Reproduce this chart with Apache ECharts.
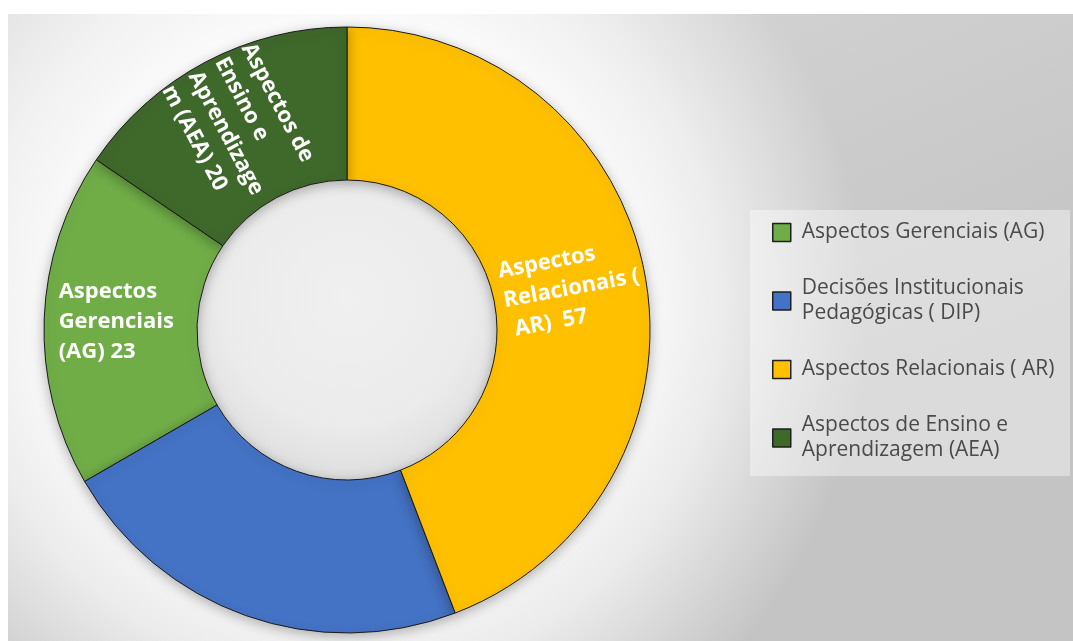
<!DOCTYPE html>
<html>
<head>
<meta charset="utf-8">
<script src="https://cdn.jsdelivr.net/npm/echarts@6/dist/echarts.min.js"></script>
<style>
  html, body { margin: 0; padding: 0; background: #ffffff; }
  #chart { width: 1073px; height: 641px; }
</style>
</head>
<body>
<div id="chart"></div>
<script>
// Categories in legend order; the ring runs counter-clockwise in this order
const categories = [
  'Aspectos Gerenciais (AG)',
  'Decisões Institucionais Pedagógicas ( DIP)',
  'Aspectos Relacionais ( AR)',
  'Aspectos de Ensino e Aprendizagem (AEA)'
];
const values = [23, 29, 57, 20];
const colors = ['#70AD47', '#4472C4', '#FFC000', '#3F682B'];

// Wrapped text for the legend entries
const legendText = [
  'Aspectos Gerenciais (AG)',
  'Decisões Institucionais\nPedagógicas ( DIP)',
  'Aspectos Relacionais ( AR)',
  'Aspectos de Ensino e\nAprendizagem (AEA)'
];

// Wrapped name lines for the slice labels (value is appended to the last line); null = no label
const sliceNameLines = [
  ['Aspectos', 'Gerenciais', '(AG)'],
  null,
  ['Aspectos', 'Relacionais (', ' AR) '],
  ['Aspectos de', 'Ensino e', 'Aprendizage', 'm (AEA)']
];
const sliceRotate = [0, 0, 'radial', 'radial'];

const labelFont = 'bold 22px "Open Sans"';
const measureCtx = document.createElement('canvas').getContext('2d');
measureCtx.font = labelFont;

function sliceLines(i) {
  const lines = sliceNameLines[i].slice();
  lines[lines.length - 1] += ' ' + values[i];
  return lines;
}

const total = values.reduce((a, b) => a + b, 0);
// The first slice starts where the last one (AEA) ends, measured from 12 o'clock
const startAngle = 90 + values[values.length - 1] / total * 360;

const pieCenter = [347, 330];
const pieRadius = [150, 303];

const chart = echarts.init(document.getElementById('chart'), null, { renderer: 'canvas' });

const pieData = categories.map((name, i) => {
  const item = { name: name, value: values[i], itemStyle: { color: colors[i] } };
  if (!sliceNameLines[i]) {
    item.label = { show: false };
  } else {
    const lines = sliceLines(i);
    const w = Math.ceil(Math.max(...lines.map(l => measureCtx.measureText(l).width))) + 2;
    item.label = {
      show: true,
      rotate: sliceRotate[i],
      formatter: lines.map(l => '{t|' + l + '}').join('\n'),
      rich: {
        t: {
          width: w,
          align: 'left',
          color: '#ffffff',
          fontFamily: 'Open Sans',
          fontWeight: 'bold',
          fontSize: 22,
          lineHeight: 30
        }
      }
    };
  }
  return item;
});

const option = {
  animation: false,
  backgroundColor: '#ffffff',
  graphic: [
    // chart area: grey base that darkens downwards
    {
      type: 'rect',
      z: -20,
      silent: true,
      shape: { x: 8, y: 14, width: 1065, height: 627 },
      style: {
        fill: new echarts.graphic.LinearGradient(0, 0, 0.25, 1, [
          { offset: 0, color: '#dadada' },
          { offset: 1, color: '#c4c4c4' }
        ])
      }
    },
    // soft light glow around the ring
    {
      type: 'rect',
      z: -19,
      silent: true,
      shape: { x: 8, y: 14, width: 1065, height: 627 },
      style: {
        fill: new echarts.graphic.RadialGradient(pieCenter[0], pieCenter[1] - 20, 520, [
          { offset: 0, color: 'rgba(255,255,255,1)' },
          { offset: 0.55, color: 'rgba(255,255,255,0.9)' },
          { offset: 0.72, color: 'rgba(255,255,255,0.65)' },
          { offset: 1, color: 'rgba(255,255,255,0)' }
        ], true)
      }
    },
    // hole of the ring
    {
      type: 'circle',
      z: -15,
      silent: true,
      shape: { cx: pieCenter[0], cy: pieCenter[1], r: pieRadius[0] },
      style: {
        fill: new echarts.graphic.RadialGradient(pieCenter[0], pieCenter[1] - 30, 180, [
          { offset: 0, color: '#f0f0f0' },
          { offset: 0.7, color: '#ebebeb' },
          { offset: 1, color: '#dedede' }
        ], true)
      }
    },
    // legend panel
    {
      type: 'rect',
      z: -5,
      silent: true,
      shape: { x: 750, y: 210, width: 320, height: 266 },
      style: { fill: 'rgba(255,255,255,0.4)' }
    }
  ],
  legend: {
    orient: 'vertical',
    left: 772,
    top: 220,
    icon: 'rect',
    itemWidth: 18,
    itemHeight: 18,
    itemGap: 31,
    padding: 0,
    data: categories,
    formatter: function (name) {
      return legendText[categories.indexOf(name)];
    },
    itemStyle: { borderColor: '#1f1f1f', borderWidth: 1.5 },
    textStyle: {
      fontFamily: 'Open Sans',
      fontSize: 21,
      color: '#4a4a4a',
      lineHeight: 25,
      padding: [0, 0, 0, 6]
    }
  },
  series: [
    {
      type: 'pie',
      center: pieCenter,
      radius: pieRadius,
      clockwise: false,
      startAngle: startAngle,
      avoidLabelOverlap: false,
      itemStyle: {
        borderColor: '#1a1a1a',
        borderWidth: 1,
        shadowBlur: 12,
        shadowColor: 'rgba(0,0,0,0.28)',
        shadowOffsetY: 3
      },
      label: { position: 'inside' },
      labelLine: { show: false },
      emphasis: { disabled: true },
      data: pieData
    }
  ]
};

chart.setOption(option);
</script>
</body>
</html>
